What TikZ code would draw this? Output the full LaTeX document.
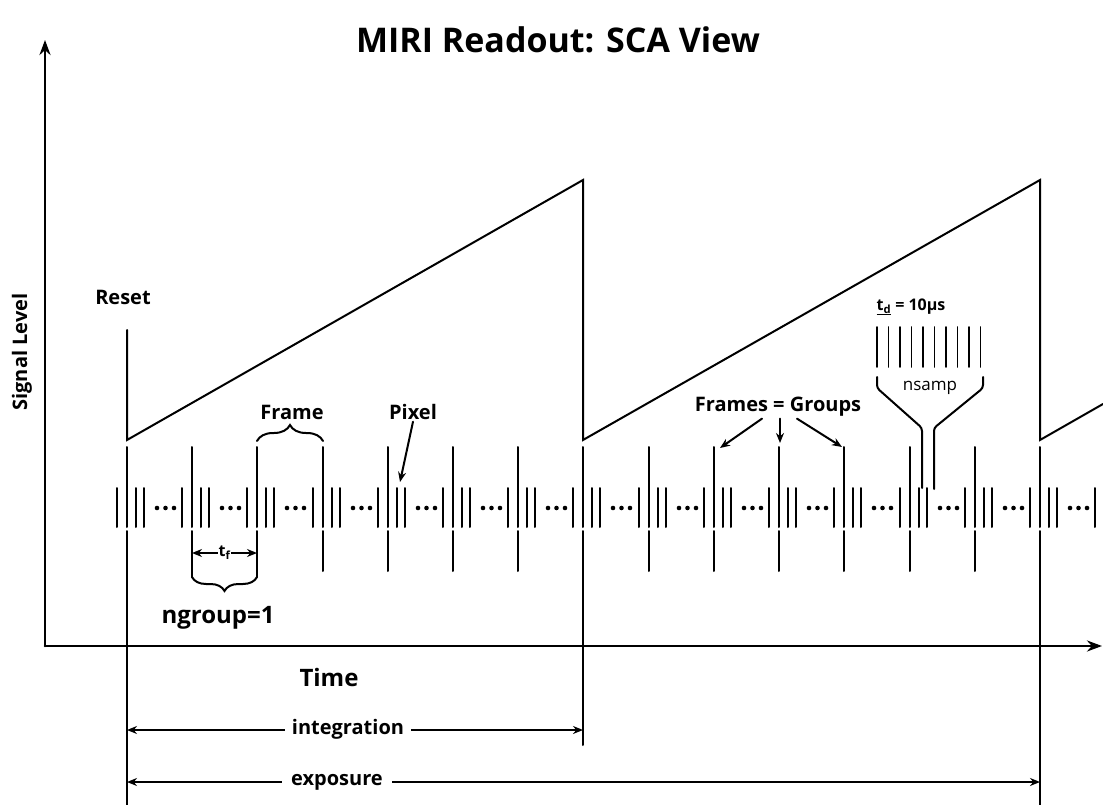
\documentclass[tikz,border=0pt]{standalone}
\usepackage{fontspec}
\setmainfont{Open Sans}
\usetikzlibrary{arrows.meta,decorations.pathreplacing}
\tikzset{
	lbl/.style={font=\bfseries\fontsize{20}{22}\selectfont,inner sep=1pt},
	biglbl/.style={font=\bfseries\fontsize{24}{27}\selectfont,inner sep=1pt},
	tinylbl/.style={font=\bfseries\fontsize{16}{18}\selectfont,inner sep=1pt},
	brc/.style={decorate,decoration={brace,amplitude=#1}},
	brc/.default=14pt,
	axis/.style={line width=2.6pt,-{Stealth[length=15pt,width=11pt]}},
}
\begin{document}
\begin{tikzpicture}[x=1pt,y=-1pt,line cap=round,line width=2pt,>={Stealth[length=10pt,width=8pt]}]
	\useasboundingbox (0,0) rectangle (1103,805);
	\node[font=\bfseries\fontsize{34}{38}\selectfont] (title) at (558,40) {MIRI Readout: SCA View};
	% axes
	\coordinate (O) at (45,646);
	\coordinate (ytip) at (45,40);
	\coordinate (xtip) at (1102,646);
	\draw[axis] (O) -- (ytip);
	\draw[axis] (O) -- (xtip);
	\node[lbl,rotate=90] (sig) at (22,352) {Signal Level};
	\node[biglbl] (time) at (329,677) {Time};
	% ramps
	\draw (127,330) -- (127,440) -- (583,180) -- (583,440) -- (1040,180) -- (1040,440) -- (1103,404);
	\node[lbl] (reset) at (123,297) {Reset};
	% pixel train
	\foreach \i in {0,...,15}{
		\pgfmathsetmacro{\L}{round(127+65.214*\i)}
		\foreach \d in {-10,9,17}
			\draw (\L+\d,488) -- (\L+\d,527);
		\draw (\L,447) -- (\L,527);
		\draw (\L,531) -- (\L,571);
		\foreach \d in {30,38.5,47}
			\fill (\L+\d,508) circle (2.3);
	}
	\draw (127,571) -- (127,805);
	\draw (583,571) -- (583,745);
	\draw (1040,571) -- (1040,805);
	% frame brace
	\draw[brc=16pt] (257,441) -- (323,441);
	\node[lbl] (frame) at (292,412) {Frame};
	% t_f and ngroup
	\draw (192,571) -- (192,577);
	\draw (257,571) -- (257,577);
	\draw[<->] (192,553) -- (257,553) node[midway,fill=white,tinylbl] (tf) {t\textsubscript{f}};
	\draw[brc=14pt] (257,577) -- (192,577);
	\node[biglbl] (ngroup) at (218,618) {ngroup=1};
	% pixel
	\node[lbl] (pixel) at (413,412) {Pixel};
	\coordinate (pix) at (400,482);
	\draw[->] (pixel.south) -- (pix);
	% frames = groups
	\node[lbl] (fg) at (778,407) {Frames = Groups};
	\coordinate (g9) at (720,448);
	\coordinate (g10) at (780,443);
	\coordinate (g11) at (842,447);
	\draw[->] ([xshift=-16pt]fg.south) -- (g9);
	\draw[->] ([xshift=2pt]fg.south) -- (g10);
	\draw[->] ([xshift=19pt]fg.south) -- (g11);
	% nsamp
	\node[tinylbl] (td) at (911,307) {\underline{t\textsubscript{d}} = 10µs};
	\foreach \k in {0,...,9}
		\draw[line width=1.8pt] (877+11.5*\k,327) -- (877+11.5*\k,367);
	\draw[rounded corners=3pt] (877,377) -- (877,388) -- (922,428) -- (922,488);
	\draw[rounded corners=3pt] (983,377) -- (983,388) -- (934,428) -- (934,489);
	\node[tinylbl,font=\fontsize{17}{19}\selectfont] (nsamp) at (930,388) {nsamp};
	% integration and exposure
	\coordinate (intL) at (127,730);
	\coordinate (intR) at (583,730);
	\draw[<->] (intL) -- (intR);
	\node[lbl,fill=white,inner xsep=7pt] (integ) at (348,729) {integration};
	\coordinate (expL) at (127,782);
	\coordinate (expR) at (1040,782);
	\draw[<->] (expL) -- (expR);
	\node[lbl,fill=white,inner xsep=9pt] (expo) at (337,782) {exposure};
\end{tikzpicture}
\end{document}
